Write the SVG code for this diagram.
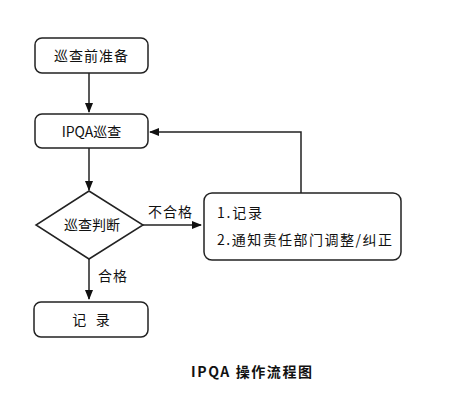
<svg xmlns="http://www.w3.org/2000/svg" width="454" height="404" viewBox="0 0 454 404">
<defs>
<marker id="ah" markerWidth="10" markerHeight="8" refX="9" refY="4" orient="auto" markerUnits="userSpaceOnUse">
<path d="M0,0 L10,4 L0,8 Z" fill="#111"/>
</marker>
<style>
.box{fill:#fff;stroke:#222;stroke-width:1.5}
.t{font-family:"Noto Sans CJK SC","Liberation Sans",sans-serif;font-size:14px;fill:#111}
.c{stroke:#222;stroke-width:1.5;fill:none}
</style>
</defs>
<rect width="454" height="404" fill="#fff"/>
<g id="connectors">
<line class="c" x1="89" y1="73" x2="89" y2="112" marker-end="url(#ah)"/>
<line class="c" x1="89" y1="148" x2="89" y2="190" marker-end="url(#ah)"/>
<line class="c" x1="143" y1="225" x2="201" y2="225" marker-end="url(#ah)"/>
<polyline class="c" points="301,193 301,132 150,132" marker-end="url(#ah)"/>
<line class="c" x1="89" y1="259" x2="89" y2="299" marker-end="url(#ah)"/>
<text class="t" x="148" y="217" font-size="13" textLength="44" lengthAdjust="spacing">不合格</text>
<text class="t" x="98" y="281" font-size="13" textLength="29" lengthAdjust="spacing">合格</text>
</g>
<g id="n1">
<rect class="box" x="35" y="38" width="113" height="35" rx="7"/>
<text class="t" x="91.5" y="61" text-anchor="middle" letter-spacing="1">巡查前准备</text>
</g>
<g id="n2">
<rect class="box" x="35" y="114" width="113" height="34" rx="7"/>
<text class="t" x="91.5" y="136.5" text-anchor="middle" font-size="13">IPQA巡查</text>
</g>
<g id="n3">
<polygon class="box" points="89,191 143,225 89,259 36,225"/>
<text class="t" x="92" y="230" text-anchor="middle">巡查判断</text>
</g>
<g id="n4">
<rect class="box" x="204" y="193" width="197" height="67" rx="8"/>
<text class="t" x="217" y="218" font-size="13" textLength="45" lengthAdjust="spacing">1.记录</text>
<text class="t" x="217" y="245" font-size="13" textLength="175" lengthAdjust="spacing">2.通知责任部门调整/纠正</text>
</g>
<g id="n5">
<rect class="box" x="34" y="302" width="114" height="35" rx="7"/>
<text class="t" x="91" y="325" text-anchor="middle" xml:space="preserve">记   录</text>
</g>
<text class="t" x="191" y="377" font-size="13" font-weight="bold" textLength="121" lengthAdjust="spacing">IPQA 操作流程图</text>
</svg>
